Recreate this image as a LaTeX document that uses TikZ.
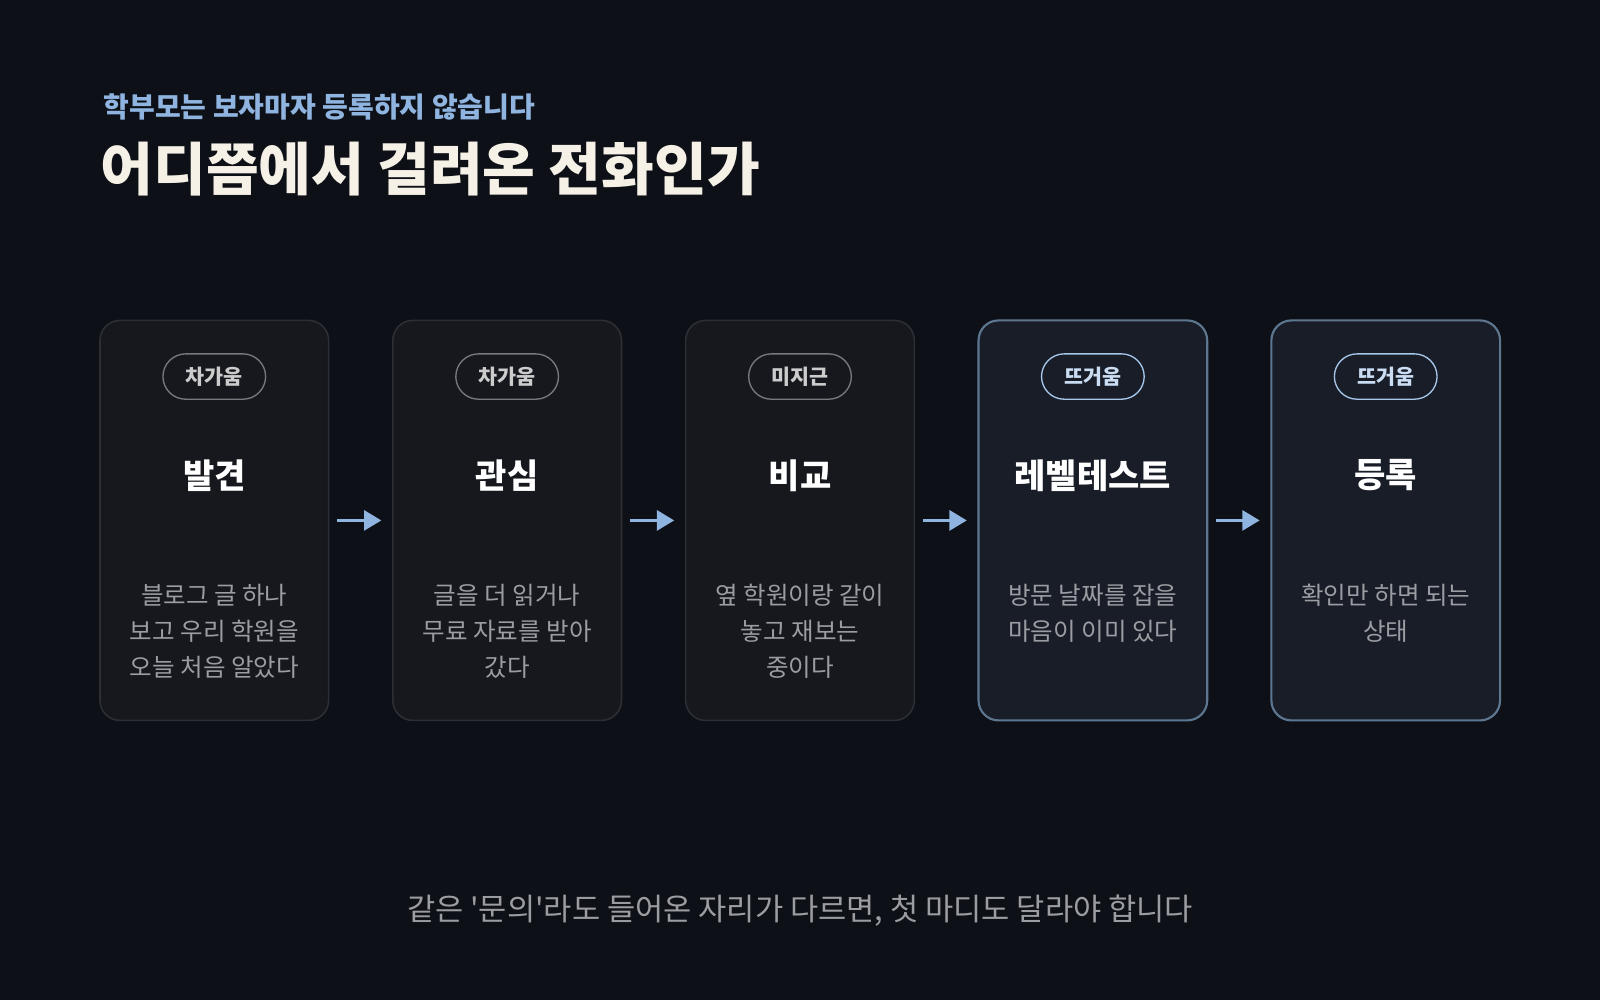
\documentclass[tikz,border=0pt]{standalone}
\usepackage{fontspec}
\setmainfont{Noto Sans CJK KR}
\newfontfamily\krplain{Noto Sans CJK KR}[Ligatures=ResetAll]
\usetikzlibrary{arrows.meta}
\definecolor{bg}{HTML}{0D1017}
\definecolor{cardc}{HTML}{16181E}
\definecolor{cardh}{HTML}{181D27}
\definecolor{bordc}{HTML}{2C2E35}
\definecolor{bordh}{HTML}{5E7791}
\definecolor{pillc}{HTML}{77797E}
\definecolor{pillh}{HTML}{A6C6EA}
\definecolor{accent}{HTML}{8FB4E0}
\definecolor{cream}{HTML}{F6F1E6}
\definecolor{bodyt}{HTML}{9C9DA2}
\tikzset{
 card/.style={rounded corners=15pt,draw=bordc,fill=cardc,line width=1.2pt,minimum width=171.5pt,minimum height=300pt},
 hcard/.style={card,draw=bordh,fill=cardh,line width=1.6pt},
 pill/.style={rounded corners=17pt,draw=pillc,line width=1pt,minimum width=77pt,minimum height=34pt,text=black!20!white,font=\fontsize{15.5}{18}\selectfont\bfseries},
 hpill/.style={pill,draw=pillh,text=pillh!60!white},
 ttl/.style={text=white,font=\fontsize{25.5}{30}\selectfont\bfseries},
 body/.style={text=bodyt,align=center,font=\fontsize{18.4}{26.8}\selectfont},
 arr/.style={-{Triangle[length=13pt,width=15pt]},line width=2.3pt,draw=accent}
}
\begin{document}
\begin{tikzpicture}[x=0.7653pt,y=-0.7653pt]
\fill[bg] (0,0) rectangle (1568,980);
\useasboundingbox (0,0) rectangle (1568,980);
\node[anchor=west,text=accent,font=\fontsize{21}{25}\selectfont\bfseries] (sub) at (97,105) {학부모는 보자마자 등록하지 않습니다};
\node[anchor=west,text=cream,font=\fontsize{43}{50}\selectfont\bfseries] (title) at (94,166) {어디쯤에서 걸려온 전화인가};
\foreach \i/\x/\cs/\ps/\p/\t/\b in {
 1/210/card/pill/차가움/발견/{블로그 글 하나\\보고 우리 학원을\\오늘 처음 알았다},
 2/497/card/pill/차가움/관심/{글을 더 읽거나\\무료 자료를 받아\\갔다},
 3/784/card/pill/미지근/비교/{옆 학원이랑 같이\\놓고 재보는\\중이다},
 4/1071/hcard/hpill/뜨거움/레벨테스트/{방문 날짜를 잡을\\마음이 이미 있다},
 5/1358/hcard/hpill/뜨거움/등록/{확인만 하면 되는\\상태}}{
 \node[\cs] (c\i) at (\x,510) {};
 \node[\ps] (p\i) at (\x,369) {\p};
 \node[ttl] (t\i) at (\x,466) {\t};
 \node[body,anchor=north] (b\i) at (\x,568) {\b};
}
\foreach \a/\b in {1/2,2/3,3/4,4/5}{
 \coordinate (s\a) at ([xshift=6]c\a.east);
 \coordinate (e\a) at ([xshift=-8]c\b.west);
 \draw[arr] (s\a) -- (e\a);
}
\node[text=bodyt,font=\krplain\fontsize{23}{28}\selectfont] (foot) at (784,892) {같은 '문의'라도 들어온 자리가 다르면, 첫 마디도 달라야 합니다};
\end{tikzpicture}
\end{document}
